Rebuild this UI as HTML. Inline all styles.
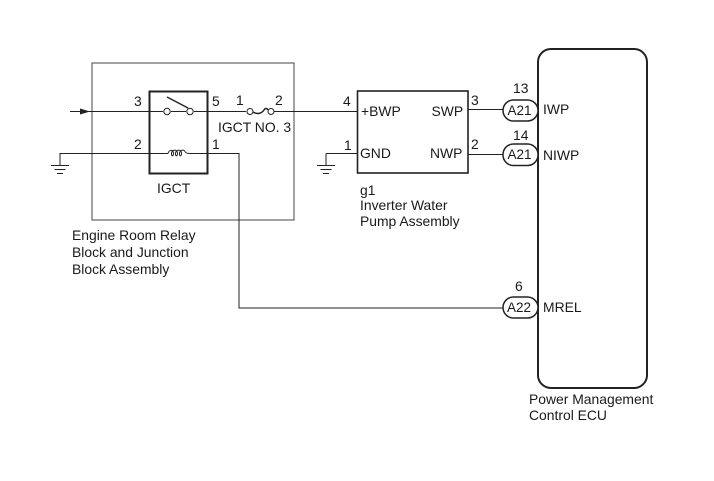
<!DOCTYPE html>
<html>
<head>
<meta charset="utf-8">
<style>
html,body{margin:0;padding:0;background:#fff;}
svg{display:block;}
text{font-family:"Liberation Sans",sans-serif;font-size:13.9px;fill:#1a1a1a;}
</style>
</head>
<body>
<svg width="714" height="481" viewBox="0 0 714 481" xmlns="http://www.w3.org/2000/svg">
<g fill="none" stroke="#222">
  <!-- outer box -->
  <rect x="92" y="63" width="202" height="157" stroke="#444" stroke-width="1"/>
  <!-- relay -->
  <rect x="149.5" y="91.5" width="58" height="82" stroke-width="2"/>
  <!-- main wire -->
  <path d="M70 111.5H163M171 111.5H186M194 111.5H246M274 111.5H357" stroke-width="1"/>
  <!-- switch -->
  <circle cx="167" cy="111.5" r="3.2" stroke-width="1"/>
  <circle cx="190" cy="111.5" r="3.2" stroke-width="1"/>
  <path d="M167 97L188 108" stroke-width="1.3"/>
  <!-- fuse -->
  <circle cx="250" cy="111.5" r="3" stroke-width="1"/>
  <circle cx="271" cy="111.5" r="3" stroke-width="1"/>
  <path d="M253 112C258 115 262 113 264 110C265 108 267 108 268 110" stroke-width="1.5"/>
  <!-- coil wire -->
  <path d="M60 165V153.5H168M190 153.5H239V308H503" stroke-width="1"/>
  <path d="M168 153.5C169 150 172 149.5 173 151.5C174.5 155 172 157.5 171.5 154.5C171 150 176 149 177 151.5C178.5 155 176 157.5 175.5 154.5C175 150 180 149 181 151.5C182.5 155 180 157.5 179.5 154.5C179 150 184 149 185 151.5C185.5 153 187 153.5 190 153.5" stroke-width="1"/>
  <!-- grounds -->
  <path d="M51 165.5H69M54.5 169.5H65.5M57 173.5H63" stroke-width="1"/>
  <path d="M326 153.5H357M326 153.5V165" stroke-width="1"/>
  <path d="M317 165.5H335M320.5 169.5H331.5M323 173.5H329" stroke-width="1"/>
  <!-- pump -->
  <rect x="357.5" y="91" width="110.5" height="82" stroke-width="1.6"/>
  <path d="M468 109.5H503M468 154.5H503" stroke-width="1"/>
  <!-- ECU -->
  <rect x="538" y="49" width="109" height="339" rx="13" ry="13" stroke-width="2"/>
  <!-- connectors -->
  <rect x="503" y="100" width="35" height="21" rx="10.5" ry="10.5" stroke-width="1.5" fill="#fff"/>
  <rect x="503" y="144" width="35" height="21.5" rx="10.5" ry="10.5" stroke-width="1.5" fill="#fff"/>
  <rect x="503" y="297" width="35" height="21" rx="10.5" ry="10.5" stroke-width="1.5" fill="#fff"/>
</g>
<path d="M80 108.5L90 111.5L80 114.5Z" fill="#222"/>
<text x="134" y="106">3</text>
<text x="212" y="106">5</text>
<text x="236" y="105">1</text>
<text x="275" y="105">2</text>
<text x="134" y="149">2</text>
<text x="212" y="149">1</text>
<text x="218" y="132">IGCT NO. 3</text>
<text x="157" y="193">IGCT</text>
<text x="343" y="106">4</text>
<text x="344" y="150">1</text>
<text x="361" y="116">+BWP</text>
<text x="360" y="158">GND</text>
<text x="431.5" y="116">SWP</text>
<text x="430" y="158">NWP</text>
<text x="471" y="105">3</text>
<text x="471" y="149">2</text>
<text x="513" y="93">13</text>
<text x="513" y="140">14</text>
<text x="515" y="291">6</text>
<text x="507.5" y="115" style="font-size:13.5px">A21</text>
<text x="507.5" y="159" style="font-size:13.5px">A21</text>
<text x="507" y="312" style="font-size:13.5px">A22</text>
<text x="543" y="114">IWP</text>
<text x="543" y="160">NIWP</text>
<text x="543" y="312">MREL</text>
<text x="360" y="195">g1</text>
<text x="360" y="210">Inverter Water</text>
<text x="360" y="226">Pump Assembly</text>
<text x="72" y="240">Engine Room Relay</text>
<text x="72" y="257">Block and Junction</text>
<text x="72" y="274">Block Assembly</text>
<text x="529" y="404">Power Management</text>
<text x="529" y="420">Control ECU</text>
</svg>
</body>
</html>
